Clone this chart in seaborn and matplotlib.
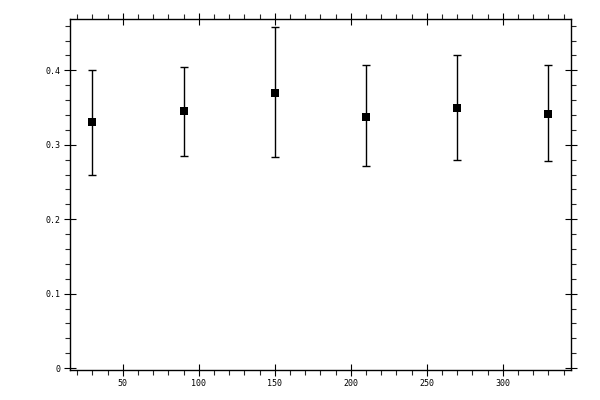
import matplotlib
matplotlib.use("Agg")
import matplotlib.pyplot as plt
from matplotlib.ticker import MultipleLocator
import seaborn as sns
import pandas as pd

x_vals = [30, 90, 150, 210, 270, 330]
y_vals = [0.330, 0.345, 0.370, 0.338, 0.350, 0.342]
y_upper = [0.400, 0.405, 0.458, 0.407, 0.420, 0.407]
y_lower = [0.260, 0.285, 0.283, 0.271, 0.279, 0.278]

sns.set_style("ticks")
plt.rcParams['font.family'] = ['DejaVu Sans Mono', 'DejaVu Sans']

df = pd.DataFrame({"x": x_vals, "y": y_vals})

fig = plt.figure(figsize=(6, 4), dpi=100)
ax = fig.add_axes([0.116, 0.074, 0.836, 0.8785])

err_lo = [y - l for y, l in zip(y_vals, y_lower)]
err_hi = [u - y for y, u in zip(y_vals, y_upper)]
ax.errorbar(x_vals, y_vals, yerr=[err_lo, err_hi], fmt='none', ecolor='black',
            elinewidth=1.0, capsize=3, capthick=1.0)
sns.scatterplot(data=df, x="x", y="y", marker='s', s=26, color='black',
                edgecolor='black', linewidth=0, ax=ax, zorder=3)

ax.set_xlim(15, 345)
ax.set_ylim(-0.003, 0.469)
ax.xaxis.set_major_locator(MultipleLocator(50))
ax.xaxis.set_minor_locator(MultipleLocator(10))
ax.yaxis.set_major_locator(MultipleLocator(0.1))
ax.yaxis.set_minor_locator(MultipleLocator(0.02))
ax.set_yticks([0, 0.1, 0.2, 0.3, 0.4])
ax.set_yticklabels(['0', '0.1', '0.2', '0.3', '0.4'])
ax.set_xlabel('')
ax.set_ylabel('')

ax.tick_params(which='major', direction='inout', length=8, width=0.8,
               top=True, right=True, labelsize=6, pad=2.5, colors='black')
ax.tick_params(which='minor', direction='out', length=3.5, width=0.8,
               top=True, right=True)
for sp in ax.spines.values():
    sp.set_linewidth(1.0)
    sp.set_color('black')

fig.savefig("out.png", dpi=100)
